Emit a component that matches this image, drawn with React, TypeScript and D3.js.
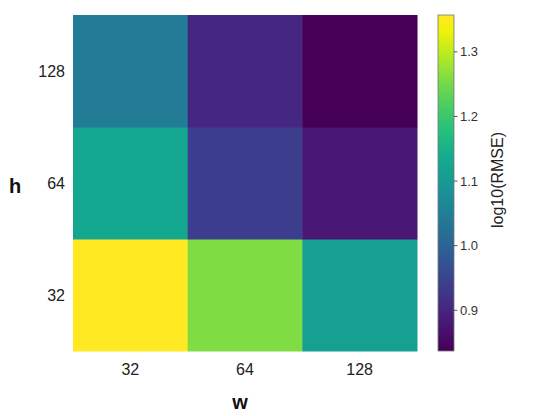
import React from 'react';
import * as d3 from 'd3';

// categories (w across, h bottom to top)
const wValues = ['32', '64', '128'];
const hValues = ['32', '64', '128'];

// log10(RMSE) per cell, rows indexed by h, columns by w
const rmseRows: number[][] = [
  [1.357, 1.258, 1.113], // h = 32
  [1.124, 0.94, 0.879], // h = 64
  [1.045, 0.904, 0.837], // h = 128
];

const colorbarTicks = [0.9, 1.0, 1.1, 1.2, 1.3];
const colorDomain = [0.837, 1.357];

const font = '"Liberation Sans", Arial, sans-serif';

// viridis, slightly more saturated like the reference rendering
const vivid = (t: number) => {
  const c = d3.hsl(d3.interpolateViridis(t));
  c.s = Math.min(1, c.s * 1.15);
  return c.formatHex();
};

export default function App() {
  const width = 550;
  const height = 416;

  const plot = { left: 73, right: 417, top: 15, bottom: 351 };
  const bar = { left: 438, right: 454, top: 15, bottom: 351 };

  const x = d3.scaleBand<string>().domain(wValues).range([plot.left, plot.right]);
  const y = d3.scaleBand<string>().domain(hValues).range([plot.bottom, plot.top]);
  const color = d3.scaleSequential(vivid).domain(colorDomain as [number, number]);
  const barY = d3.scaleLinear().domain(colorDomain).range([bar.bottom, bar.top]);

  const cells: { w: string; h: string; v: number }[] = [];
  hValues.forEach((h, i) => {
    wValues.forEach((w, j) => {
      cells.push({ w, h, v: rmseRows[i][j] });
    });
  });

  const gradStops = d3.range(0, 1.0001, 0.05);

  return (
    <svg width={width} height={height} style={{ display: 'block', position: 'absolute', left: 0, top: 0 }}>
      <defs>
        <linearGradient id="cbar" x1="0" y1="1" x2="0" y2="0">
          {gradStops.map(t => (
            <stop key={t} offset={`${t * 100}%`} stopColor={vivid(t)} />
          ))}
        </linearGradient>
      </defs>
      <rect width={width} height={height} fill="#fff" />

      {/* heatmap cells */}
      {cells.map(c => (
        <rect
          key={`${c.w}-${c.h}`}
          x={x(c.w)}
          y={y(c.h)}
          width={x.bandwidth() + 0.5}
          height={y.bandwidth() + 0.5}
          fill={color(c.v)}
        />
      ))}

      {/* x tick labels */}
      {wValues.map(w => (
        <text
          key={`x${w}`}
          x={(x(w) ?? 0) + x.bandwidth() / 2}
          y={369}
          textAnchor="middle"
          dominantBaseline="central"
          fontFamily={font}
          fontSize={16}
          fill="#222"
        >
          {w}
        </text>
      ))}

      {/* y tick labels */}
      {hValues.map(h => (
        <text
          key={`y${h}`}
          x={65}
          y={(y(h) ?? 0) + y.bandwidth() / 2}
          textAnchor="end"
          dominantBaseline="central"
          fontFamily={font}
          fontSize={16}
          fill="#222"
        >
          {h}
        </text>
      ))}

      {/* axis titles */}
      <text x={240} y={402} textAnchor="middle" dominantBaseline="central" fontFamily={font} fontSize={20} fontWeight="bold" fill="#111">
        w
      </text>
      <text x={15} y={186} textAnchor="middle" dominantBaseline="central" fontFamily={font} fontSize={20} fontWeight="bold" fill="#111">
        h
      </text>

      {/* colorbar */}
      <rect
        x={bar.left}
        y={bar.top}
        width={bar.right - bar.left}
        height={bar.bottom - bar.top}
        fill="url(#cbar)"
        stroke="#777"
        strokeWidth={0.8}
      />
      {colorbarTicks.map(t => (
        <g key={`c${t}`}>
          <line x1={bar.right} x2={bar.right + 3.5} y1={barY(t)} y2={barY(t)} stroke="#333" strokeWidth={0.8} />
          <text
            x={bar.right + 6}
            y={barY(t)}
            dominantBaseline="central"
            fontFamily={font}
            fontSize={13}
            fill="#333"
          >
            {t.toFixed(1)}
          </text>
        </g>
      ))}
      <text
        transform={`translate(497, ${(bar.top + bar.bottom) / 2 - 3}) rotate(-90)`}
        textAnchor="middle"
        dominantBaseline="central"
        fontFamily={font}
        fontSize={16}
        fill="#222"
      >
        log10(RMSE)
      </text>
    </svg>
  );
}
